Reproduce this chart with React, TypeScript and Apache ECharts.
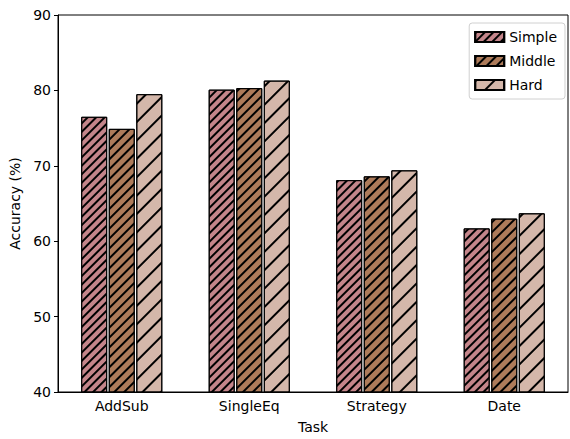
import React, { useEffect, useRef } from "react";
import * as echarts from "echarts";

const categories = ["AddSub", "SingleEq", "Strategy", "Date"];
const simpleValues = [76.5, 80.1, 68.1, 61.7];
const middleValues = [74.9, 80.3, 68.6, 63.0];
const hardValues = [79.5, 81.3, 69.4, 63.7];
const seriesNames = ["Simple", "Middle", "Hard"];
const yTicks = [40, 50, 60, 70, 80, 90];

const FONT = "DejaVu Sans";

function hatch(gap: number) {
  return {
    symbol: "rect",
    symbolSize: 1,
    color: "#000000",
    dashArrayX: [1, 0],
    dashArrayY: [1.3, gap],
    rotation: -Math.PI / 4,
  };
}

export default function App() {
  const ref = useRef<HTMLDivElement>(null);
  useEffect(() => {
    if (!ref.current) return;
    const chart = echarts.init(ref.current, undefined, { renderer: "svg" });
    const colors = ["#c4858a", "#ad7b5a", "#d4b7aa"];
    const gaps = [3.2, 4.6, 10.5];
    const datas = [simpleValues, middleValues, hardValues];
    chart.setOption({
      animation: false,
      aria: { enabled: true, decal: { show: true } },
      textStyle: { fontFamily: FONT },
      grid: {
        left: 58,
        right: 2,
        top: 15,
        bottom: 41,
        show: true,
        borderColor: "#000",
        borderWidth: 1,
        containLabel: false,
      },
      legend: {
        data: seriesNames,
        right: 5,
        top: 23,
        orient: "vertical",
        itemWidth: 29,
        itemHeight: 10,
        itemGap: 10,
        padding: [7, 8, 7, 5],
        borderColor: "#d0d0d0",
        borderWidth: 1,
        borderRadius: 3,
        backgroundColor: "#fff",
        textStyle: { fontFamily: FONT, fontSize: 14, color: "#000" },
        icon: "rect",
      },
      xAxis: {
        type: "category",
        data: categories,
        name: "Task",
        nameLocation: "middle",
        nameGap: 28,
        nameTextStyle: { fontFamily: FONT, fontSize: 14, color: "#000" },
        axisLine: { lineStyle: { color: "#000", width: 1 } },
        axisTick: { alignWithLabel: true, length: 4, lineStyle: { color: "#000" } },
        axisLabel: { fontFamily: FONT, fontSize: 14, color: "#000", margin: 7 },
      },
      yAxis: {
        type: "value",
        min: 40,
        max: 90,
        interval: 10,
        name: "Accuracy (%)",
        nameLocation: "middle",
        nameGap: 35,
        nameTextStyle: { fontFamily: FONT, fontSize: 14, color: "#000" },
        axisLine: { show: true, lineStyle: { color: "#000", width: 1 } },
        axisTick: { show: true, length: 4, lineStyle: { color: "#000" } },
        axisLabel: {
          fontFamily: FONT,
          fontSize: 14,
          color: "#000",
          margin: 7,
          formatter: (v: number) => (yTicks.includes(v) ? String(v) : ""),
        },
        splitLine: { show: false },
      },
      series: seriesNames.map((name, i) => ({
        name,
        type: "bar",
        data: datas[i],
        barWidth: 26,
        barGap: "6%",
        itemStyle: {
          color: colors[i],
          borderColor: "#000",
          borderWidth: 1,
          decal: hatch(gaps[i]),
        },
      })),
    });
    return () => chart.dispose();
  }, []);
  return <div ref={ref} style={{ width: 570, height: 439, position: "absolute", left: 0, top: 0 }} />;
}
